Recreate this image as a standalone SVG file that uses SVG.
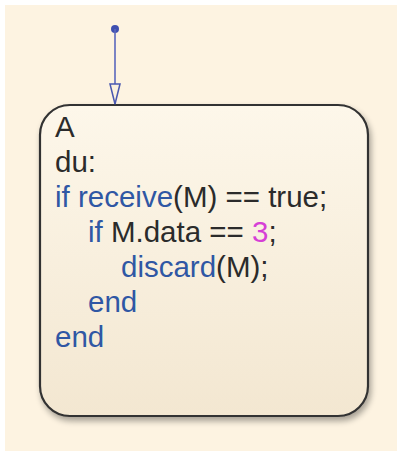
<svg xmlns="http://www.w3.org/2000/svg" width="397" height="451" viewBox="0 0 397 451">
  <defs>
    <linearGradient id="stateFill" x1="0" y1="0" x2="0" y2="1">
      <stop offset="0" stop-color="#fdf7ea"/>
      <stop offset="1" stop-color="#f3e7d1"/>
    </linearGradient>
    <filter id="shadow" x="-10%" y="-10%" width="130%" height="130%">
      <feGaussianBlur in="SourceAlpha" stdDeviation="3"/>
      <feOffset dx="2" dy="4" result="b"/>
      <feComponentTransfer><feFuncA type="linear" slope="0.35"/></feComponentTransfer>
      <feMerge><feMergeNode/><feMergeNode in="SourceGraphic"/></feMerge>
    </filter>
    <marker id="openArrow" markerWidth="22" markerHeight="12" refX="21" refY="6" orient="auto" markerUnits="userSpaceOnUse" viewBox="0 0 22 12">
      <path d="M1,1 L21,6 L1,11 Z" fill="#fbf1de" stroke="#4a58b0" stroke-width="1.5" stroke-linejoin="miter"/>
    </marker>
    <style>
      .code { font-family: "Liberation Sans", Arial, Helvetica, sans-serif; font-size: 29.5px; fill: #2b2b2b; }
      .kw { fill: #2f57a4; }
      .num { fill: #d63fd6; }
      .state { fill: url(#stateFill); stroke: #333333; stroke-width: 2.2; }
      .trans { stroke: #5b67bd; stroke-width: 1.6; fill: none; }
    </style>
  </defs>
  <rect x="0" y="0" width="397" height="451" fill="#ffffff"/>
  <rect x="5" y="5" width="392" height="446" fill="#fdf3e1"/>

  <g id="A">
    <rect class="state" x="40" y="105" width="328" height="311" rx="30" ry="30" filter="url(#shadow)"/>
    <text class="code" x="55" y="137">A</text>
    <text class="code" x="55" y="172">du:</text>
    <text class="code" x="55" y="207"><tspan class="kw">if</tspan> <tspan class="kw">receive</tspan>(M) == true;</text>
    <text class="code" x="88" y="242"><tspan class="kw">if</tspan> M.data == <tspan class="num">3</tspan>;</text>
    <text class="code" x="121" y="277"><tspan class="kw">discard</tspan>(M);</text>
    <text class="code" x="88" y="312"><tspan class="kw">end</tspan></text>
    <text class="code" x="55" y="347"><tspan class="kw">end</tspan></text>
  </g>

  <g id="connectors">
    <circle cx="115" cy="29" r="4" fill="#3f4fb0"/>
    <line class="trans" x1="115" y1="29" x2="115" y2="104" marker-end="url(#openArrow)"/>
  </g>
</svg>
